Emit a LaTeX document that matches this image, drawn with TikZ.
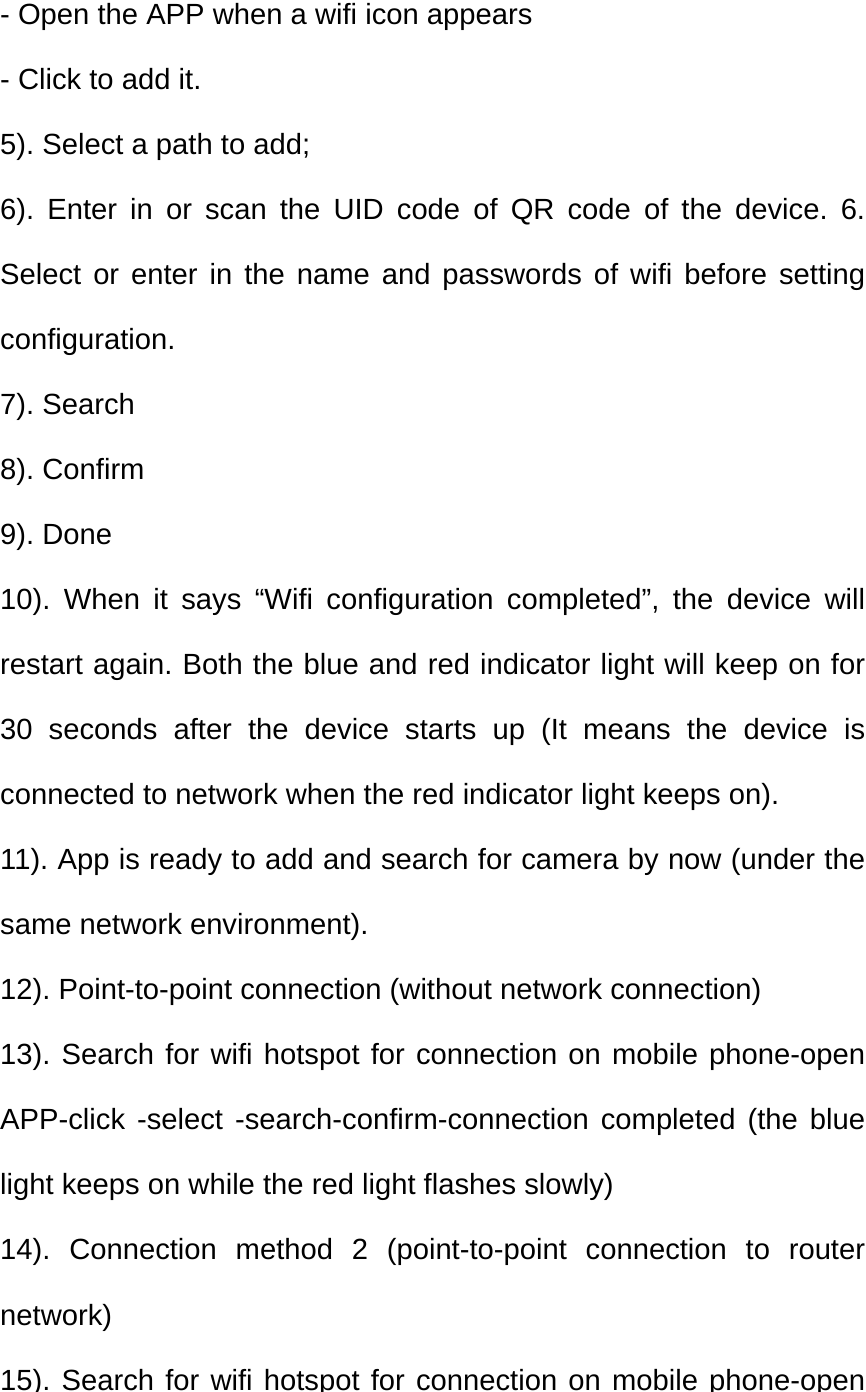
\documentclass[tikz,border=0pt]{standalone}
\usepackage{fontspec}
\setmainfont{Liberation Sans}
\frenchspacing
\begin{document}
\begin{tikzpicture}[x=1pt,y=1pt,ln/.style={anchor=base west,inner sep=0pt,font=\fontsize{29.2}{34}\selectfont\frenchspacing}]
\useasboundingbox (0,0) rectangle (866,-1392);
\newcommand{\J}[1]{\makebox[865pt][s]{#1}}
\def\L#1#2{\node[ln] (l#1) at (0,{-24-65.05*(#1-1)}) {#2};}
\L{1}{- Open the APP when a wifi icon appears}
\L{2}{- Click to add it.}
\L{3}{5). Select a path to add;}
\L{4}{\J{6). Enter in or scan the UID code of QR code of the device. 6.}}
\L{5}{\J{Select or enter in the name and passwords of wifi before setting}}
\L{6}{configuration.}
\L{7}{7). Search}
\L{8}{8). Confirm}
\L{9}{9). Done}
\L{10}{\J{10). When it says “Wifi configuration completed”, the device will}}
\L{11}{\J{restart again. Both the blue and red indicator light will keep on for}}
\L{12}{\J{30 seconds after the device starts up (It means the device is}}
\L{13}{connected to network when the red indicator light keeps on).}
\L{14}{\J{11). App is ready to add and search for camera by now (under the}}
\L{15}{same network environment).}
\L{16}{12). Point-to-point connection (without network connection)}
\L{17}{\J{13). Search for wifi hotspot for connection on mobile phone-open}}
\L{18}{\J{APP-click -select -search-confirm-connection completed (the blue}}
\L{19}{light keeps on while the red light flashes slowly)}
\L{20}{\J{14). Connection method 2 (point-to-point connection to router}}
\L{21}{network)}
\L{22}{\J{15). Search for wifi hotspot for connection on mobile phone-open}}
\end{tikzpicture}
\end{document}
